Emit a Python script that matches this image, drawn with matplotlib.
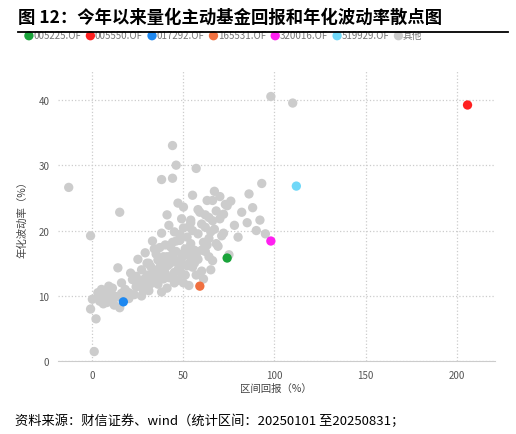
import matplotlib.pyplot as plt

plt.rcParams['font.family'] = ['Noto Sans CJK SC', 'DejaVu Sans']

# highlighted funds: (return %, volatility %)
funds = ['005225.OF', '005550.OF', '017292.OF', '165531.OF', '320016.OF', '519929.OF']
fund_colors = ['#1aa33a', '#ff2020', '#1e88f0', '#f07040', '#ff20f0', '#70d8f8']
fund_x = [74, 206, 17, 59, 98, 112]
fund_y = [15.8, 39.2, 9.1, 11.5, 18.4, 26.8]

# other funds
other_x = [-13, -1, 1, 2, -1, 98, 110, 44, 46, 57, 38, 44, 93, 76, 15, 0,
           3, 5, 4, 8, 10, 12, 7, 9, 14, 16, 18, 20, 22, 25, 13, 11, 6, 19,
           21, 24, 27, 28, 30, 32, 33, 35, 36, 37, 38, 39, 40, 41, 42, 43, 44,
           45, 46, 47, 48, 49, 50, 51, 52, 53, 54, 55, 56, 57, 58, 60, 61, 62,
           63, 64, 65, 66, 67, 68, 70, 72, 73, 75, 78, 80, 82, 85, 88, 90, 95,
           26, 29, 31, 34, 36, 39, 41, 43, 45, 47, 49, 51, 53, 55, 58, 60, 62,
           64, 66, 69, 71, 30, 33, 35, 37, 40, 42, 44, 46, 48, 50, 52, 54, 56,
           23, 27, 31, 35, 38, 41, 45, 49, 53, 57, 61, 65, 20, 24, 28, 32, 36,
           40, 44, 48, 52, 56, 60, 64, 68, 72, 34, 38, 42, 46, 50, 54, 58, 62,
           66, 70, 74, 25, 29, 33, 37, 41, 45, 49, 53, 8, 12, 16, 3, 6, 10, 15,
           86, 92, 63, 67, 59, 50, 55, 47, 39, 35, 31, 27]
other_y = [26.6, 19.2, 1.5, 6.5, 8.0, 40.5, 39.5, 33.0, 30.0, 29.5, 27.8, 28.0, 27.2, 24.5, 22.8, 9.5,
           10.5, 11.0, 9.2, 10.2, 10.8, 10.0, 9.5, 11.5, 14.3, 12.0, 11.0, 10.5, 12.5, 11.8, 9.8, 11.2, 10.6, 9.9,
           13.5, 13.0, 14.0, 12.5, 13.2, 14.5, 12.0, 13.8, 15.5, 12.8, 14.2, 15.0, 13.5, 16.0, 14.8, 17.5, 13.0,
           15.2, 16.8, 14.0, 18.5, 15.8, 16.5, 17.2, 19.0, 15.0, 18.0, 20.0, 17.0, 16.2, 19.5, 21.0, 18.2, 20.5,
           17.8, 22.0, 19.8, 21.5, 20.2, 23.0, 21.8, 22.5, 24.0, 16.3, 20.8, 19.0, 22.8, 21.2, 23.5, 20.0, 19.5,
           11.5, 12.2, 10.8, 13.0, 11.8, 12.6, 14.6, 15.8, 13.6, 12.4, 14.8, 13.2, 16.2, 14.4, 15.6, 13.8, 16.8,
           18.8, 15.4, 17.6, 19.2, 15.0, 13.6, 16.4, 14.4, 17.8, 12.8, 18.2, 15.4, 19.4, 12.0, 17.0, 21.2, 15.0,
           10.2, 10.0, 11.6, 12.2, 10.6, 11.2, 12.0, 13.4, 11.6, 13.2, 12.6, 14.0, 9.6, 11.4, 10.8, 12.8, 14.0,
           15.2, 16.4, 13.8, 14.6, 15.6, 17.0, 16.0, 18.0, 19.6, 17.2, 19.6, 20.8, 18.4, 20.4, 21.6, 23.2, 22.4,
           24.6, 25.2, 23.8, 15.6, 16.6, 18.4, 17.4, 22.4, 19.8, 21.8, 20.6, 9.0, 8.6, 10.4, 9.8, 8.8, 9.4, 8.2,
           25.6, 21.6, 24.6, 26.0, 22.8, 23.6, 25.4, 24.2, 16.0, 13.4, 15.0, 11.8]

fig = plt.figure(figsize=(5.16, 4.35), dpi=100)
ax = fig.add_axes([0.112, 0.167, 0.847, 0.669])

ax.scatter(other_x, other_y, s=45, color='#cccccc', edgecolors='none', label='其他', zorder=2)
for name, c, x, y in zip(funds, fund_colors, fund_x, fund_y):
    ax.scatter([x], [y], s=45, color=c, edgecolors='none', label=name, zorder=3)

ax.set_xlim(-19, 221)
ax.set_ylim(0, 44.5)
ax.set_xticks([0, 50, 100, 150, 200])
ax.set_yticks([0, 10, 20, 30, 40])
ax.grid(True, linestyle=':', color='#cccccc', linewidth=0.9)
ax.set_axisbelow(True)
for s in ['top', 'right', 'left']:
    ax.spines[s].set_visible(False)
ax.spines['bottom'].set_color('#cccccc')
ax.tick_params(length=0, labelsize=7, colors='#555555', pad=6)
ax.set_xlabel('区间回报（%）', fontsize=7.5, color='#444444', labelpad=2)
ax.set_ylabel('年化波动率（%）', fontsize=7.5, color='#444444', labelpad=8)

h, l = ax.get_legend_handles_labels()
ax.legend(h[1:] + h[:1], l[1:] + l[:1], loc='lower left', bbox_to_anchor=(-0.085, 1.09),
          ncol=7, frameon=False, fontsize=7, handletextpad=0.0, handlelength=0.9,
          columnspacing=0.5, labelcolor='#777777', borderaxespad=0)

fig.text(0.035, 0.958, '图 12：今年以来量化主动基金回报和年化波动率散点图',
         fontsize=12.5, fontweight='bold', va='center')
fig.add_artist(plt.Line2D([0.035, 0.985], [0.923, 0.923], color='black', linewidth=1.3))
fig.text(0.03, 0.032, '资料来源：财信证券、wind（统计区间：20250101 至20250831；',
         fontsize=9.5, va='center', style='italic')

fig.savefig('out.png', dpi=100)
